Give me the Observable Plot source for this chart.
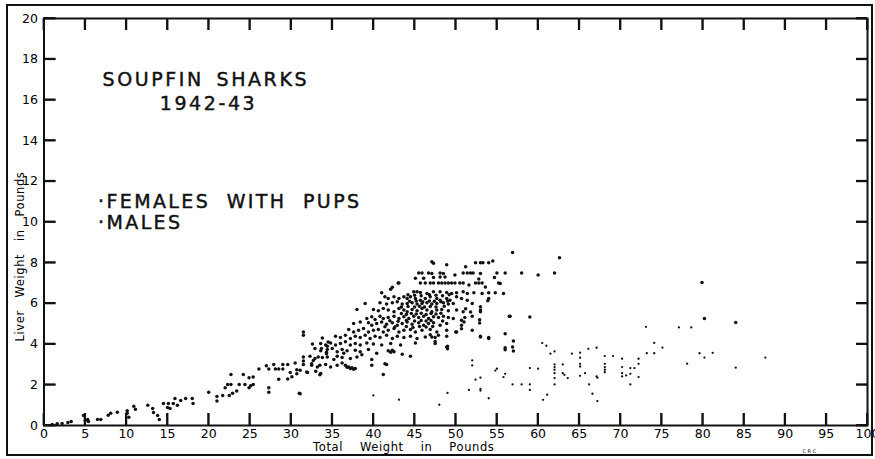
<!DOCTYPE html>
<html>
<head>
<meta charset="utf-8">
<script src="https://cdn.jsdelivr.net/npm/d3@7"></script>
<script src="https://cdn.jsdelivr.net/npm/@observablehq/plot@0.6"></script>
<style>
  html, body { margin: 0; padding: 0; background: white; }
  #wrap { position: relative; width: 875px; height: 459px; overflow: hidden; }
  #border { position: absolute; left: 6px; top: 4px; width: 867px; height: 452px; border: 2px solid #111; box-sizing: border-box; pointer-events: none; }
</style>
</head>
<body>
<div id="wrap"><div id="chart"></div><div id="border"></div></div>
<script>
// ---- Data ----
const xTicks = [0, 5, 10, 15, 20, 25, 30, 35, 40, 45, 50, 55, 60, 65, 70, 75, 80, 85, 90, 95, 100];
const yTicks = [0, 2, 4, 6, 8, 10, 12, 14, 16, 18, 20];

const titleLines = ["SOUPFIN SHARKS", "1942-43"];
const legendLabels = ["·FEMALES WITH PUPS", "·MALES"];
const xLabel = "Total\u00a0\u00a0\u00a0\u00a0Weight\u00a0\u00a0\u00a0\u00a0in\u00a0\u00a0\u00a0\u00a0Pounds";
const yLabel = "Liver\u00a0\u00a0\u00a0Weight\u00a0\u00a0\u00a0in\u00a0\u00a0\u00a0Pounds";

// [total weight (lb), liver weight (lb)]
const males = [
  [1.0,0.05],[1.6,0.08],[2.2,0.1],[2.9,0.15],[3.3,0.2],[4.8,0.49],[5.0,0.25],[5.3,0.3],[5.4,0.2],[6.5,0.3],[6.9,0.3],[7.8,0.5],[8.1,0.6],[8.9,0.65],[10.1,0.73],[10.1,0.6],[10.3,0.4],[10.9,0.95],[11.1,0.8],
  [12.6,0.99],[13.2,0.84],[13.3,0.64],[13.8,0.49],[14.0,0.3],[14.5,1.08],[15.0,0.89],[15.1,1.08],[15.3,0.84],[15.7,1.08],[15.9,1.33],[16.2,0.99],[16.6,1.23],[17.2,1.33],[18.0,1.33],[18.1,1.08],
  [20.0,1.64],[21.0,1.43],[21.0,1.2],[21.7,1.48],[22.0,1.86],[22.3,2.02],[22.5,1.48],[22.7,2.02],[22.7,2.51],[22.9,1.59],[23.4,1.69],[23.7,2.02],[24.2,2.51],[24.4,2.02],[24.9,2.35],[24.9,1.86],[25.1,1.95],[25.4,2.38],[25.4,2.02],[26.1,2.78],[27.0,2.94],[27.3,2.78],[27.3,1.86],[27.3,1.64],[27.9,3.0],[28.1,2.78],[28.5,2.27],[28.5,2.78],[29.0,3.0],[29.0,2.78],[29.6,3.0],[29.6,2.28],[29.9,2.61],[30.1,2.4],[30.5,3.07],[30.7,2.74],[30.7,2.54],[31.0,1.59],[31.5,3.17],[31.5,3.0],[31.5,4.6],[31.5,4.43],[32.0,2.61],[32.6,4.0],[32.5,3.04],[32.7,3.2],[33.0,2.66],[33.3,3.37],[33.5,2.96],[33.5,2.5],[33.7,3.78],[33.8,4.3],[34.3,3.6],[34.3,3.53],[34.4,3.9],[34.5,4.1],
  [47.1,8.05],[47.3,7.97],[48.9,7.9],[51.2,7.8],[52.4,8.0],[53.0,8.0],[53.3,8.0],[54.0,8.0],[54.5,8.08],[56.9,8.5],[58.0,7.5],[60.0,7.4],[62.0,7.5],[62.6,8.24],
  [45.5,7.5],[45.9,7.5],[46.7,7.5],[47.1,7.47],[48.1,7.5],[48.5,7.47],[49.9,7.4],[50.9,7.5],[51.4,7.5],[51.8,7.5],[52.1,7.5],[53.0,7.47],[55.0,7.5],[56.0,7.5],
  [45.1,7.23],[46.1,7.23],[47.3,7.27],[48.1,7.3],[48.7,7.3],[52.8,7.2],[54.7,7.27],[55.2,7.0],[55.4,6.98],[53.6,6.81],
  [43.0,7.0],[41.0,6.52],[42.3,6.79],[42.1,6.7],[43.1,7.0],
  [45.7,7.0],[46.3,7.0],[46.9,7.0],[47.3,7.0],[47.9,7.0],[48.3,7.0],[48.7,7.0],[49.1,7.0],[49.5,7.0],[49.9,7.0],[50.5,7.0],[50.9,7.0],[51.6,6.9],[52.4,7.0],[52.8,7.0],[53.2,7.0],
  [44.9,6.57],[45.3,6.57],[45.7,6.54],[46.5,6.49],[47.3,6.57],[48.1,6.57],[48.9,6.54],[49.5,6.49],[50.1,6.52],[50.9,6.57],[51.4,6.49],[52.2,6.52],[53.2,6.49],[54.0,6.52],[54.8,6.52],[55.8,6.49],
  [54.0,6.24],[53.9,6.13],
  [41.4,6.33],[41.8,6.24],[42.5,6.33],[43.1,6.24],[43.7,6.33],[44.1,6.24],[44.5,6.33],[45.1,6.24],[45.7,6.16],[46.3,6.24],[46.9,6.33],[47.7,6.24],[48.1,6.16],[48.9,6.24],[49.3,6.16],[50.1,6.33],[50.7,6.24],[51.4,6.16],
  [39.0,6.0],[38.0,5.7],[52.0,6.0],[53.0,5.83],[53.0,5.67],[53.0,5.59],[51.2,5.74],
  [40.8,6.03],[41.6,5.97],[42.3,6.03],[42.9,6.08],[43.5,5.97],[44.1,6.0],[44.7,6.03],[45.3,5.97],[45.9,6.0],[46.5,6.03],[47.1,5.97],[47.7,6.0],[48.5,6.03],[49.1,5.97],[49.7,6.0],
  [40.0,5.7],[40.6,5.64],[41.2,5.75],[41.8,5.67],[42.5,5.59],[43.1,5.75],[43.7,5.67],[44.1,5.59],[44.7,5.7],[45.3,5.64],[45.9,5.75],[46.5,5.67],[47.1,5.59],[47.7,5.67],[48.3,5.7],[49.1,5.64],[50.1,5.67],[50.9,5.59],[51.8,5.58],[52.0,5.37],
  [39.2,5.26],[39.8,5.34],[40.2,5.21],[40.8,5.37],[41.2,5.26],[41.8,5.31],[42.5,5.37],[43.1,5.26],[43.7,5.34],[44.3,5.26],[44.9,5.37],[45.5,5.31],[46.1,5.37],[46.7,5.26],[47.3,5.34],[47.9,5.31],[48.5,5.37],[49.1,5.31],[49.7,5.26],[51.1,5.31],[50.7,5.17],[51.0,5.09],[52.9,5.2],[52.9,5.04],[56.5,5.37],[56.6,5.37],[59.0,5.33],
  [37.6,5.01],[38.4,5.09],[39.4,5.05],[39.8,4.93],[40.4,5.01],[41.0,5.09],[41.6,4.98],[42.3,5.05],[42.9,4.93],[43.5,5.01],[44.1,5.09],[44.7,4.98],[45.5,5.05],[46.1,4.93],[46.7,5.01],[47.3,5.05],[48.1,4.93],[48.9,5.01],[50.7,4.93],
  [37.0,4.72],[37.6,4.6],[38.2,4.68],[38.8,4.77],[39.4,4.6],[40.0,4.68],[40.6,4.72],[41.2,4.6],[41.8,4.68],[42.5,4.77],[43.1,4.6],[43.7,4.68],[44.5,4.72],[45.1,4.6],[45.9,4.68],[46.9,4.72],[47.7,4.6],[48.9,4.68],[50.1,4.6],[52.0,4.68],[50.7,4.76],[50.0,4.6],
  [35.4,4.39],[36.0,4.32],[36.6,4.44],[37.2,4.27],[37.8,4.39],[38.4,4.32],[39.0,4.44],[39.6,4.27],[40.2,4.39],[40.8,4.32],[41.6,4.44],[42.3,4.27],[42.9,4.39],[43.7,4.32],[44.5,4.39],[45.3,4.27],[46.3,4.35],[47.5,4.32],[48.9,4.39],[53.0,4.39],[54.0,4.32],[46.9,4.46],[47.1,4.35],[47.9,4.43],[53.0,4.35],[54.0,4.27],[56.0,4.51],
  [33.6,4.03],[34.2,3.95],[34.8,4.06],[35.4,3.95],[36.0,4.03],[36.6,4.11],[37.2,3.95],[37.8,4.03],[38.4,3.95],[39.2,4.06],[40.0,4.0],[41.0,3.95],[42.1,4.03],[43.3,3.95],[45.1,4.06],[47.5,4.03],[48.9,3.86],[47.5,4.13],[49.0,3.9],[49.0,3.77],[57.0,4.15],
  [32.9,3.78],[33.6,3.67],[34.4,3.73],[35.0,3.78],[35.6,3.62],[36.2,3.73],[36.8,3.67],[37.8,3.7],[38.4,3.62],[39.4,3.73],[41.8,3.67],[42.5,3.62],[44.5,3.4],[56.0,3.82],[56.0,3.72],[56.9,3.86],[57.0,3.66],[42.3,3.7],[42.1,3.6],[43.5,3.5],
  [31.5,3.37],[32.3,3.4],[32.9,3.29],[33.8,3.34],[34.4,3.37],[35.2,3.24],[35.6,3.4],[36.2,3.34],[37.2,3.29],[38.0,3.37],[39.8,3.24],[41.4,3.04],[41.6,3.0],
  [31.1,2.71],[31.9,2.63],[32.5,2.96],[33.2,2.88],[33.6,2.55],[34.2,3.0],[34.8,2.88],[35.6,2.96],[36.2,3.07],[36.6,2.96],[37.0,2.88],[37.4,2.84],[37.8,2.8],[39.8,2.96],[41.2,2.51],
  [31.1,1.56],
  [44.2,6.42],[45.0,6.4],[45.8,6.38],[46.8,6.42],[47.6,6.4],[48.4,6.38],[49.2,6.42],
  [44.4,6.1],[45.2,6.12],[46.0,6.08],[46.8,6.12],[47.4,6.1],[48.2,6.08],[49.0,6.12],
  [43.4,5.82],[44.2,5.85],[45.0,5.82],[45.6,5.86],[46.2,5.82],[46.9,5.85],[47.6,5.82],[48.6,5.86],
  [43.4,5.5],[44.0,5.46],[44.6,5.5],[45.2,5.48],[45.8,5.52],[46.4,5.46],[47.0,5.5],[47.6,5.48],[48.2,5.52],
  [42.0,5.15],[43.0,5.12],[44.0,5.16],[45.0,5.14],[45.8,5.16],[46.4,5.14],[47.0,5.16],[48.4,5.14],
  [41.4,4.85],[42.6,4.84],[44.0,4.86],[44.8,4.82],[45.6,4.86],[46.4,4.84],[47.2,4.86],
  [36.8,2.86],[37.2,2.8],[37.6,2.76],[36.4,3.55],[38.6,3.48],[40.4,3.55],
  [79.9,7.03],[80.2,5.26],[84.0,5.06]
];

const femalesWithPups = [
  [40.0,1.48],[43.1,1.27],[48.0,1.02],[49.0,1.6],
  [52.0,3.2],[52.0,2.95],[52.4,2.25],[53.0,2.35],[53.0,1.8],[53.0,1.72],[51.6,1.75],[54.0,1.34],[54.8,2.7],[55.0,2.79],[55.8,2.38],[56.0,2.54],
  [56.9,2.02],[58.0,2.02],[59.0,2.02],[59.0,1.75],[59.0,2.82],[60.0,2.79],[60.5,4.05],[61.0,3.92],[61.5,3.53],[62.0,3.64],
  [62.0,3.0],[62.0,2.87],[62.0,2.74],[62.0,2.57],[62.0,2.33],[62.0,2.02],[63.0,3.0],[63.0,2.57],[63.2,2.49],[63.6,2.33],[61.1,1.51],[60.6,1.26],
  [64.1,3.53],[65.1,3.58],[65.1,3.33],[65.1,3.03],[65.1,2.9],[65.1,2.44],[65.7,2.57],[66.1,3.77],[66.2,2.02],[66.6,1.56],[67.2,1.2],
  [67.1,3.82],[67.1,2.41],[67.2,2.35],[68.1,3.41],[68.1,3.03],[68.1,2.87],[68.1,2.74],[68.1,2.62],[69.1,3.41],
  [70.2,3.28],[70.2,2.87],[70.2,2.57],[70.2,2.41],[70.7,2.46],[71.2,2.82],[71.2,2.54],[71.2,2.02],[71.7,2.82],[72.2,3.28],[72.2,3.03],[72.2,2.38],
  [73.1,4.85],[73.2,3.55],[74.1,4.06],[74.1,3.55],[75.1,3.83],[77.1,4.82],[78.1,3.04],[78.6,4.82],[79.6,3.55],[80.2,3.34],[81.2,3.57],[84.0,2.84],[87.6,3.34]
];

// ---- Chart ----
const W = 875, H = 459, mL = 43.5, mR = 8, mT = 18, mB = 34;
const tickLen = 12;
const innerW = W - mL - mR, innerH = H - mT - mB;

const chart = Plot.plot({
  width: W, height: H, marginLeft: mL, marginRight: mR, marginTop: mT, marginBottom: mB,
  style: { fontFamily: "DejaVu Sans", fontSize: "12px" },
  x: { domain: [0, 100], label: null },
  y: { domain: [0, 20], label: null },
  marks: [
    Plot.frame({ stroke: "#111", strokeWidth: 2 }),
    // inward ticks on all four sides, drawn as thin filled rects
    Plot.rect(xTicks, { x1: d => d, x2: d => d, insetLeft: -0.9, insetRight: -0.9, insetTop: innerH - tickLen, fill: "#111" }),
    Plot.rect(xTicks, { x1: d => d, x2: d => d, insetLeft: -0.9, insetRight: -0.9, insetBottom: innerH - tickLen, fill: "#111" }),
    Plot.rect(yTicks, { y1: d => d, y2: d => d, insetTop: -0.9, insetBottom: -0.9, insetRight: innerW - tickLen, fill: "#111" }),
    Plot.rect(yTicks, { y1: d => d, y2: d => d, insetTop: -0.9, insetBottom: -0.9, insetLeft: innerW - tickLen + 1, fill: "#111" }),
    // same ticks as line marks
    Plot.tickX(xTicks, { x: d => d, insetTop: innerH - tickLen, stroke: "#111", strokeWidth: 1.8 }),
    Plot.ruleX(xTicks, { x: d => d, insetBottom: innerH - tickLen, stroke: "#111", strokeWidth: 1.8 }),
    Plot.tickY(yTicks, { y: d => d, insetRight: innerW - tickLen, stroke: "#111", strokeWidth: 1.8 }),
    Plot.ruleY(yTicks, { y: d => d, insetLeft: innerW - tickLen + 1, stroke: "#111", strokeWidth: 1.8 }),
    // tick labels
    Plot.axisX(xTicks, { anchor: "bottom", tickSize: 0, tickPadding: 4, label: null, fontSize: 12.5 }),
    Plot.axisY(yTicks, { anchor: "left", tickSize: 0, tickPadding: 6, label: null, fontSize: 12.5 }),
    // data
    Plot.dot(males, { x: d => d[0], y: d => d[1], r: 1.75, fill: "#111", stroke: "none" }),
    Plot.dot(femalesWithPups, { x: d => d[0], y: d => d[1], r: 1.15, fill: "#111", stroke: "none" }),
    // title, legend and axis titles
    Plot.text([titleLines[0]], { frameAnchor: "top-left", dx: 58.5, dy: 61, textAnchor: "start", lineAnchor: "middle", fontSize: 19, fill: "#111", stroke: "#111", strokeWidth: 0.45 }),
    Plot.text([titleLines[1]], { frameAnchor: "top-left", dx: 164.5, dy: 85.5, textAnchor: "middle", lineAnchor: "middle", fontSize: 19, fill: "#111", stroke: "#111", strokeWidth: 0.45 }),
    Plot.text([legendLabels[0]], { frameAnchor: "top-left", dx: 54, dy: 183, textAnchor: "start", lineAnchor: "middle", fontSize: 19, fill: "#111", stroke: "#111", strokeWidth: 0.45 }),
    Plot.text([legendLabels[1]], { frameAnchor: "top-left", dx: 54, dy: 204, textAnchor: "start", lineAnchor: "middle", fontSize: 19, fill: "#111", stroke: "#111", strokeWidth: 0.45 }),
    Plot.text([xLabel], { frameAnchor: "bottom", textAnchor: "middle", dx: -52, dy: 22, fontSize: 11.5, lineAnchor: "middle" }),
    Plot.text([yLabel], { frameAnchor: "left", textAnchor: "middle", rotate: -90, dx: -23.5, dy: 34.5, fontSize: 11.5, lineAnchor: "middle" }),
    Plot.text(["C R C"], { frameAnchor: "bottom-left", dx: 758.5, dy: 26, fontSize: 5, lineAnchor: "middle" })
  ]
});
document.getElementById("chart").appendChild(chart);
chart.querySelectorAll("text").forEach(t => {
  const s = t.textContent;
  if (s.startsWith("SOUPFIN") || s.startsWith("1942")) { t.style.letterSpacing = "2.6px"; t.style.wordSpacing = "4px"; }
  if (s.startsWith("·")) { t.style.letterSpacing = "2.4px"; t.style.wordSpacing = "8px"; }
  if (s.startsWith("Total") || s.startsWith("Liver")) t.style.letterSpacing = "0.6px";
});
</script>
</body>
</html>
